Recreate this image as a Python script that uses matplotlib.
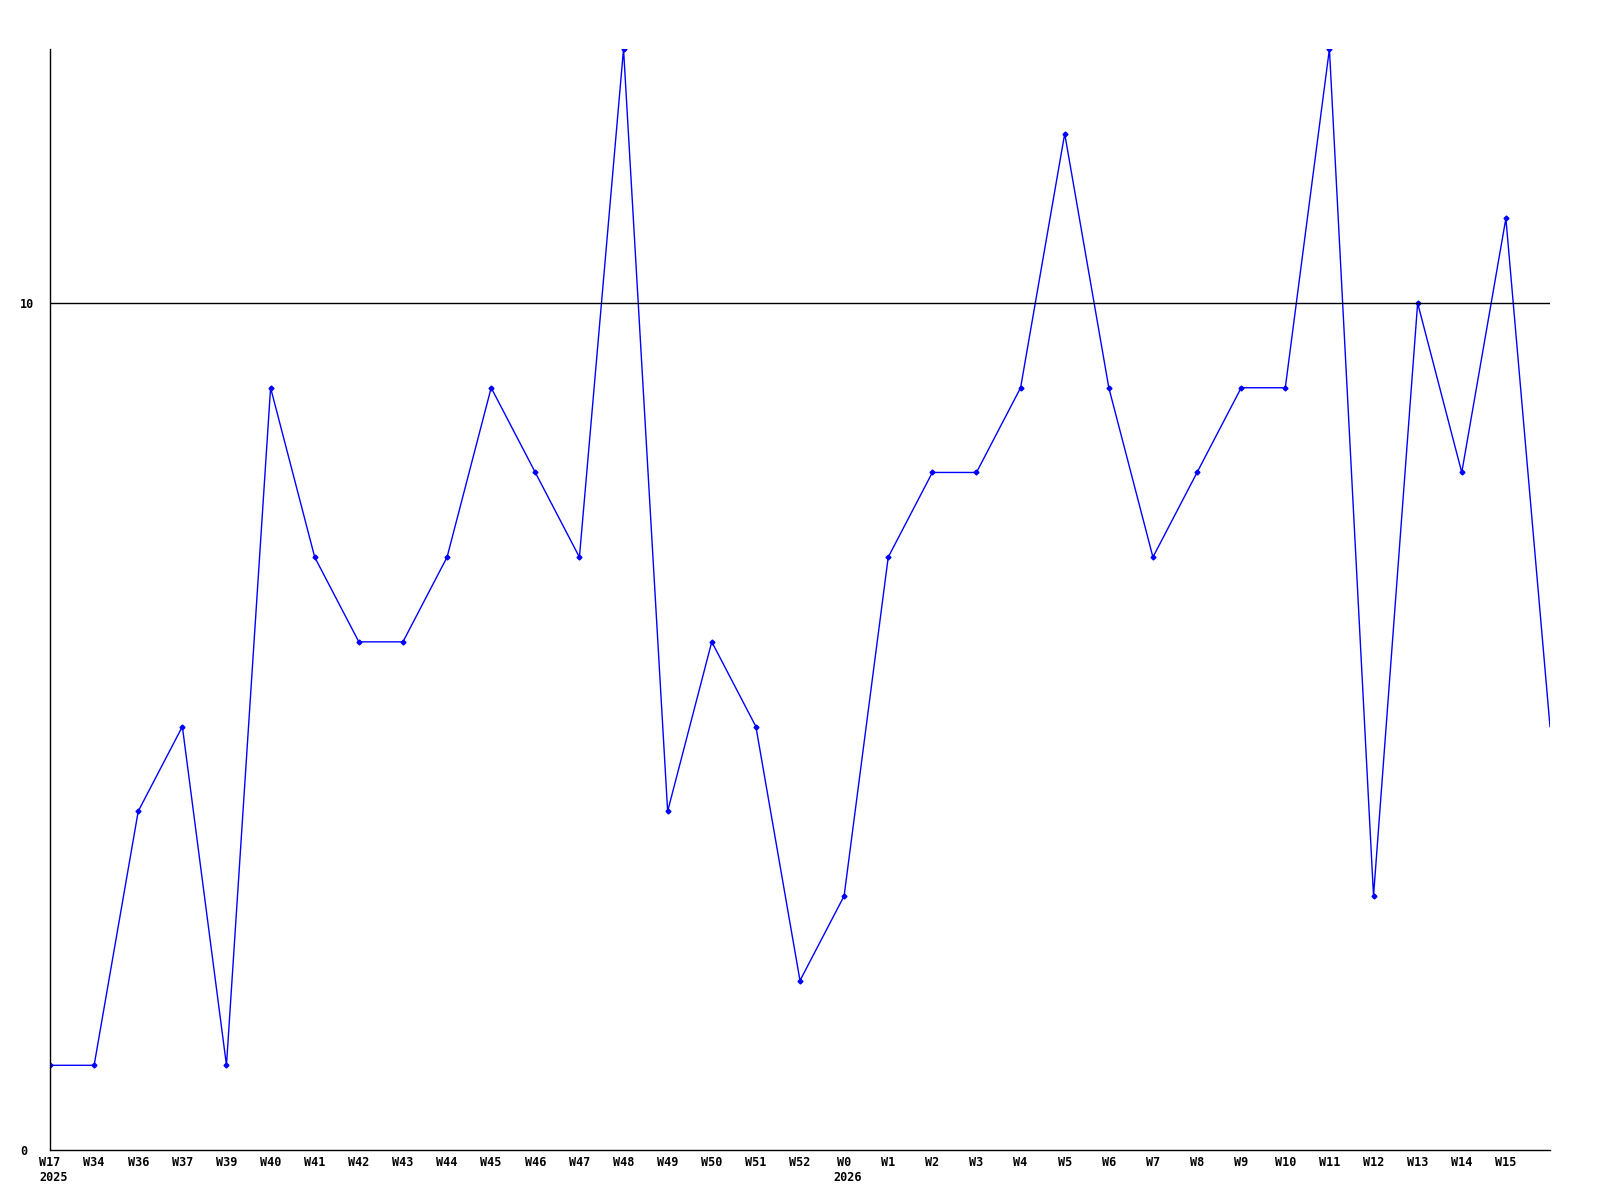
import matplotlib
matplotlib.use('Agg')
import matplotlib.pyplot as plt

weeks = ['W17', 'W34', 'W36', 'W37', 'W39', 'W40', 'W41', 'W42', 'W43', 'W44',
         'W45', 'W46', 'W47', 'W48', 'W49', 'W50', 'W51', 'W52', 'W0', 'W1',
         'W2', 'W3', 'W4', 'W5', 'W6', 'W7', 'W8', 'W9', 'W10', 'W11',
         'W12', 'W13', 'W14', 'W15', '']
values = [1, 1, 4, 5, 1, 9, 7, 6, 6, 7,
          9, 8, 7, 13, 4, 6, 5, 2, 3, 7,
          8, 8, 9, 12, 9, 7, 8, 9, 9, 13,
          3, 10, 8, 11, 5]
years = {0: '2025', 18: '2026'}

font = dict(family='DejaVu Sans Mono', weight='bold', size=8.5)

fig = plt.figure(figsize=(16, 12), dpi=100)
ax = fig.add_axes([50/1600, 50/1200, 1500/1600, 1101/1200])

x = list(range(len(values)))
ax.plot(x, values, color='#0000ff', linewidth=1)
# no marker on the last point (it sits on the right edge)
ax.plot(x[:-1], values[:-1], linestyle='none', marker='D', markersize=2.5,
        color='#0000ff')

ax.axhline(10, color='black', linewidth=1)

ax.set_xlim(0, len(values) - 1)
ax.set_ylim(0, 13)
for s in ['top', 'right']:
    ax.spines[s].set_visible(False)
for s in ['left', 'bottom']:
    ax.spines[s].set_linewidth(1)
    ax.spines[s].set_color('black')

ax.set_xticks(x[:-1])
ax.set_xticklabels(weeks[:-1], **font)
ax.set_yticks([0, 10])
ax.set_yticklabels(['0', '10'], **font)
ax.tick_params(axis='x', length=0, pad=4)
ax.tick_params(axis='y', length=0, pad=21.5)
for t in ax.get_yticklabels():
    t.set_horizontalalignment('left')

for i, yr in years.items():
    ax.annotate(yr, xy=(i, 0), xycoords='data', xytext=(-7.5, -15),
                textcoords='offset points', ha='left', va='top', **font)

fig.savefig('out.png', dpi=100)
